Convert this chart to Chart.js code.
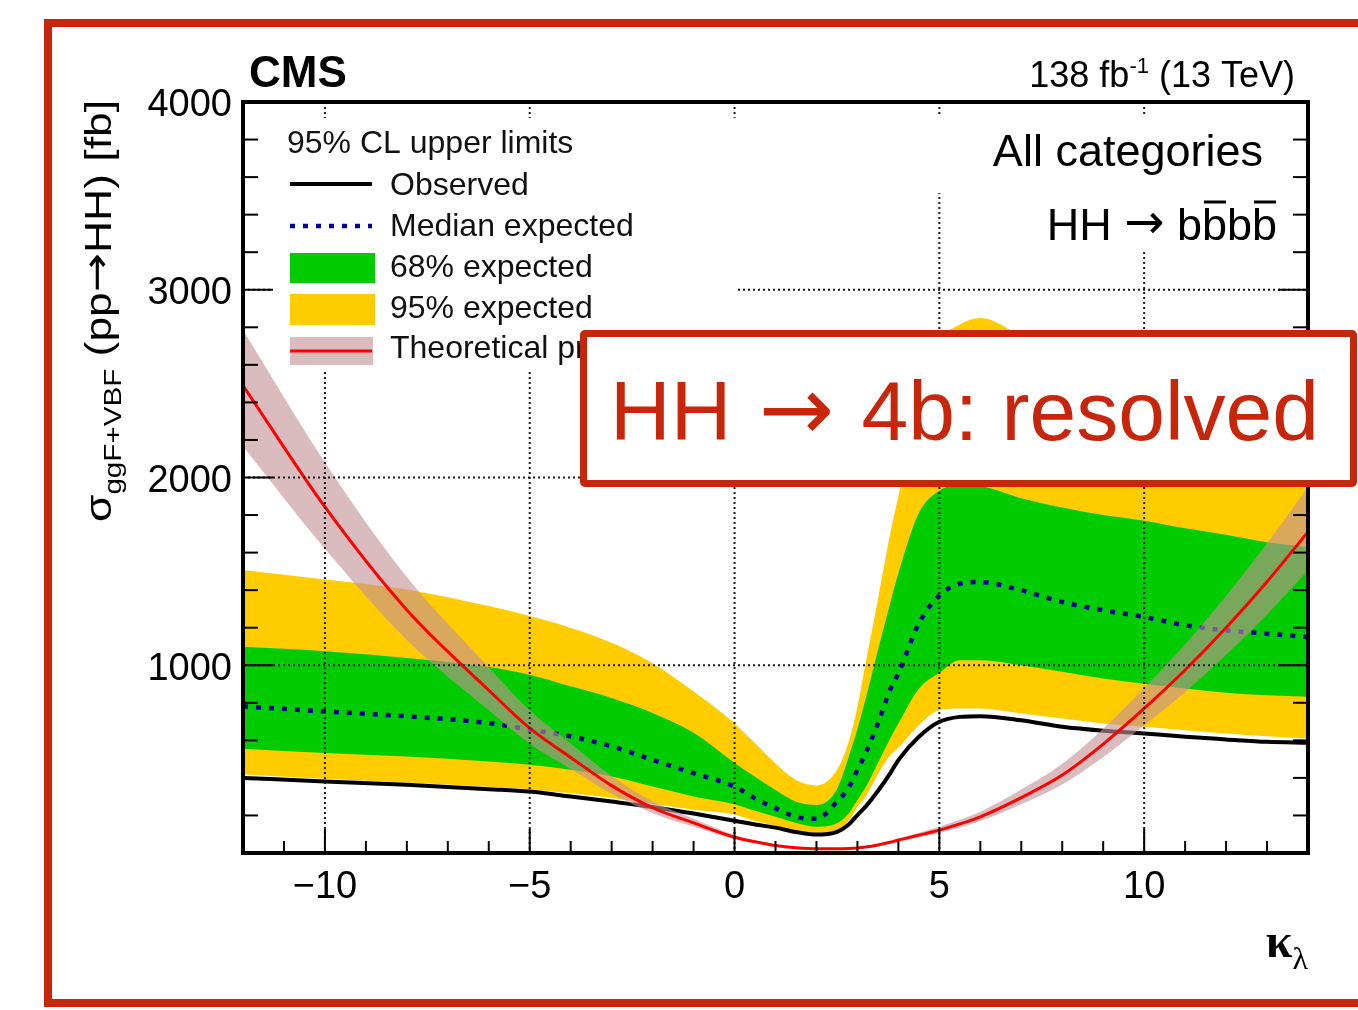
<!DOCTYPE html>
<html>
<head>
<meta charset="utf-8">
<script src="https://cdn.jsdelivr.net/npm/chart.js@4.4.1/dist/chart.umd.min.js"></script>
<style>
  html, body { margin: 0; padding: 0; background: #fff; overflow: hidden; }
  #wrap { position: relative; width: 1358px; height: 1010px; }
  canvas { position: absolute; left: 0; top: 0; }
  #frame { position: absolute; left: 44px; top: 19px; width: 1400px; height: 988px; box-sizing: border-box; border: 8px solid #c8260b; }
  #note { position: absolute; left: 580px; top: 330px; width: 777px; height: 157px; box-sizing: border-box;
          border: 7px solid #c8260b; border-radius: 5px; background: #fff; }
  #note > span { position: absolute; left: 23px; top: 32px; font: 84px/84px "Liberation Sans", Arial, sans-serif;
                 color: #c8260b; white-space: nowrap; }
  #note .ar { font-family: "DejaVu Sans", sans-serif; font-size: 90px; line-height: 0; margin: 0 4px; }
</style>
</head>
<body>
<div id="wrap">
  <canvas id="chart" width="1358" height="1010"></canvas>
  <div id="frame"></div>
  <div id="note"><span>HH <span class="ar">→</span> 4b: resolved</span></div>
</div>
<script>
const kl = [-12, -10, -8, -6, -5, -4, -3, -2, -1, 0, 0.5, 1, 1.5, 2, 2.5, 2.8, 3, 3.2, 3.5, 3.8, 4, 4.5, 5, 5.5, 6, 7, 8, 9, 10, 11, 12, 13, 14];

const observed  = [400, 381, 363, 340, 327, 301, 274, 245, 210, 172, 152, 135, 112, 98, 113, 155, 202, 247, 330, 424, 495, 619, 699, 725, 729, 707, 672, 651, 637, 619, 605, 592, 587];
const expected  = [781, 754, 728, 692, 657, 621, 568, 496, 425, 354, 291, 238, 193, 182, 273, 353, 442, 531, 690, 870, 956, 1222, 1372, 1434, 1443, 1399, 1337, 1293, 1257, 1213, 1186, 1168, 1150];
const band68Up  = [1098, 1075, 1039, 991, 950, 888, 826, 746, 640, 480, 406, 335, 273, 256, 340, 520, 660, 820, 1080, 1330, 1490, 1811, 1930, 1960, 1955, 1890, 1840, 1800, 1770, 1730, 1695, 1655, 1630];
const band68Dn  = [555, 532, 514, 488, 470, 443, 407, 354, 301, 260, 225, 193, 160, 140, 158, 215, 282, 350, 480, 610, 690, 875, 960, 1027, 1027, 1000, 965, 929, 902, 876, 853, 840, 832];
const band95Up  = [1507, 1457, 1404, 1315, 1262, 1199, 1120, 1010, 860, 690, 584, 477, 389, 360, 442, 602, 779, 1010, 1350, 1700, 1900, 2400, 2720, 2815, 2850, 2750, 2600, 2480, 2400, 2330, 2270, 2220, 2180];
const band95Dn  = [420, 395, 375, 352, 340, 318, 293, 262, 230, 205, 170, 145, 120, 105, 122, 175, 247, 300, 420, 520, 560, 680, 761, 770, 770, 743, 716, 690, 672, 654, 637, 622, 610];
const theory    = [2490, 1843, 1294, 867, 665, 509, 359, 241, 160, 84, 60, 40, 28, 22, 22, 24, 27, 32, 43, 57, 69, 95, 122, 155, 193, 295, 415, 580, 770, 975, 1200, 1445, 1710];
const theoryUp  = [2785, 2080, 1470, 990, 760, 585, 410, 275, 182, 96, 68, 46, 33, 26, 25, 27, 31, 37, 49, 65, 79, 108, 140, 177, 220, 338, 475, 662, 880, 1112, 1370, 1650, 1950];
const theoryDn  = [2165, 1620, 1135, 760, 582, 447, 315, 212, 140, 74, 53, 35, 24, 19, 19, 21, 23, 28, 38, 50, 60, 83, 107, 136, 170, 260, 365, 510, 680, 858, 1055, 1270, 1505];

const xGrid = [-10, -5, 0, 5, 10];
const yGrid = [1000, 2000, 3000];
const legendTitle = "95% CL upper limits";
const legendLabels = ["Observed", "Median expected", "68% expected", "95% expected", "Theoretical prediction"];

const SANS = '"Liberation Sans", Arial, sans-serif';
const ARROW = '"DejaVu Sans", sans-serif';
const SERIF = '"Liberation Serif", "DejaVu Serif", serif';
const YELLOW = "#ffcc00", GREEN = "#00cc00", BLUE = "#000099", THBAND = "rgba(195,145,150,0.62)";

function pts(ys) {
  return kl.map((x, i) => ({ x: x, y: ys[i] }));
}

function band(label, ys, color, order, fill) {
  return {
    label, data: pts(ys), order,
    borderWidth: 0, borderColor: "rgba(0,0,0,0)",
    backgroundColor: color, fill: fill ? "+1" : false
  };
}

const datasets = [
  { label: "Theoretical prediction", data: pts(theory), borderColor: "#ff0000", borderWidth: 3, order: 0, fill: false },
  band("theory up", theoryUp, THBAND, 1, true),
  band("theory down", theoryDn, THBAND, 2, false),
  { label: "Median expected", data: pts(expected), borderColor: BLUE, borderWidth: 4.5, borderDash: [5, 8], order: 3, fill: false },
  { label: "Observed", data: pts(observed), borderColor: "#000", borderWidth: 4, order: 4, fill: false },
  band("68% up", band68Up, GREEN, 5, true),
  band("68% down", band68Dn, GREEN, 6, false),
  band("95% up", band95Up, YELLOW, 7, true),
  band("95% down", band95Dn, YELLOW, 8, false)
];

function line(ctx, x1, y1, x2, y2) {
  ctx.beginPath();
  ctx.moveTo(x1, y1);
  ctx.lineTo(x2, y2);
  ctx.stroke();
}

// text made of pieces with their own font and vertical shift
function runsWidth(ctx, runs) {
  let w = 0;
  runs.forEach(r => { ctx.font = r.font; w += ctx.measureText(r.t).width; });
  return w;
}
function drawRuns(ctx, runs, x, y) {
  runs.forEach(r => {
    ctx.font = r.font;
    ctx.fillText(r.t, x, y + (r.dy || 0));
    x += ctx.measureText(r.t).width;
  });
}

// grid on top of the bands, ROOT style inner ticks, legend and labels
const decor = {
  id: "decor",
  afterDatasetsDraw(chart) {
    const { ctx, chartArea: a, scales } = chart;
    const x = scales.x, y = scales.y;
    ctx.save();

    ctx.strokeStyle = "#1a1a1a";
    ctx.lineWidth = 2;
    ctx.setLineDash([2, 3]);
    xGrid.forEach(v => { const px = x.getPixelForValue(v); line(ctx, px, a.top, px, a.bottom); });
    yGrid.forEach(v => { const py = y.getPixelForValue(v); line(ctx, a.left, py, a.right, py); });
    ctx.setLineDash([]);

    // white backgrounds of legend and text labels
    ctx.fillStyle = "#fff";
    ctx.fillRect(272, 118, 466, 252);
    ctx.fillRect(930, 115, 372, 78);
    ctx.fillRect(1000, 193, 302, 57);

    // ticks
    ctx.strokeStyle = "#000";
    ctx.lineWidth = 2;
    for (let v = -12; v <= 14; v++) {
      const px = x.getPixelForValue(v);
      line(ctx, px, a.bottom, px, a.bottom - (v % 5 === 0 ? 24 : 12));
    }
    for (let v = 0; v <= 4000; v += 200) {
      const py = y.getPixelForValue(v);
      const len = v % 1000 === 0 ? 30 : 15;
      line(ctx, a.left, py, a.left + len, py);
      line(ctx, a.right, py, a.right - len, py);
    }
    ctx.lineWidth = 4;
    ctx.strokeRect(a.left, a.top, a.right - a.left, a.bottom - a.top);

    // legend
    ctx.fillStyle = "#111";
    ctx.textBaseline = "alphabetic";
    ctx.textAlign = "left";
    ctx.font = "32px " + SANS;
    ctx.fillText(legendTitle, 287, 153);
    const rows = [195, 236, 277, 318, 358];
    legendLabels.forEach((t, i) => ctx.fillText(t, 390, rows[i]));

    ctx.strokeStyle = "#000";
    ctx.lineWidth = 4;
    line(ctx, 290, 184, 372, 184);
    ctx.strokeStyle = BLUE;
    ctx.lineWidth = 4.5;
    ctx.setLineDash([5, 8]);
    line(ctx, 290, 226, 372, 226);
    ctx.setLineDash([]);
    ctx.fillStyle = GREEN;
    ctx.fillRect(290, 253, 85, 30);
    ctx.fillStyle = YELLOW;
    ctx.fillRect(290, 294, 85, 31);
    ctx.fillStyle = THBAND;
    ctx.fillRect(290, 337, 83, 28);
    ctx.strokeStyle = "#ff0000";
    ctx.lineWidth = 3;
    line(ctx, 290, 351, 372, 351);

    // CMS label and luminosity
    ctx.fillStyle = "#000";
    ctx.font = "bold 44px " + SANS;
    ctx.fillText("CMS", 249, 87);

    const lumi = [
      { t: "138 fb", font: "36px " + SANS },
      { t: "-1", font: "22px " + SANS, dy: -14 },
      { t: " (13 TeV)", font: "36px " + SANS }
    ];
    drawRuns(ctx, lumi, 1295 - runsWidth(ctx, lumi), 87);

    // category labels
    ctx.font = "45px " + SANS;
    ctx.textAlign = "right";
    ctx.fillText("All categories", 1263, 166);
    ctx.textAlign = "left";
    const hh = [
      { t: "HH ", font: "45px " + SANS },
      { t: "\u2192", font: "48px " + ARROW, dy: -2 },
      { t: " b", font: "45px " + SANS },
      { t: "b", font: "45px " + SANS },
      { t: "b", font: "45px " + SANS },
      { t: "b", font: "45px " + SANS }
    ];
    drawRuns(ctx, hh, 1277 - runsWidth(ctx, hh), 240);
    ctx.font = "45px " + SANS;
    const wb = ctx.measureText("b").width;
    const bEnd = 1277;
    ctx.strokeStyle = "#000";
    ctx.lineWidth = 3;
    [bEnd - 3 * wb, bEnd - wb].forEach(bx => line(ctx, bx + 2, 202, bx + wb - 1, 202));

    // y axis title
    ctx.save();
    ctx.translate(111, 522);
    ctx.rotate(-Math.PI / 2);
    const ytitle = [
      { t: "\u03c3", font: "36px " + SANS },
      { t: "ggF+VBF", font: "24px " + SANS, dy: 10 },
      { t: " (pp", font: "36px " + SANS },
      { t: "\u2192", font: "38px " + ARROW, dy: -2 },
      { t: "HH) [fb]", font: "36px " + SANS }
    ];
    const wy = runsWidth(ctx, ytitle);
    ctx.scale(422 / wy, 1);
    drawRuns(ctx, ytitle, 0, 0);
    ctx.restore();

    // x axis title
    const xtitle = [
      { t: "\u03ba", font: "bold 48px " + SERIF },
      { t: "\u03bb", font: "32px " + SERIF, dy: 12 }
    ];
    drawRuns(ctx, xtitle, 1308 - runsWidth(ctx, xtitle), 957);

    ctx.restore();
  }
};

new Chart(document.getElementById("chart"), {
  type: "line",
  data: { datasets },
  options: {
    responsive: false,
    animation: false,
    events: [],
    layout: { padding: { top: 102, right: 50, left: 0, bottom: 0 } },
    elements: {
      point: { radius: 0 },
      line: { cubicInterpolationMode: "monotone" }
    },
    scales: {
      x: {
        type: "linear", min: -12, max: 14,
        grid: { display: false, drawTicks: false },
        border: { display: false },
        ticks: {
          stepSize: 5, includeBounds: false, padding: 12, color: "#000",
          font: { family: SANS, size: 38 },
          callback: v => (v < 0 ? "\u2212" + Math.abs(v) : String(v))
        },
        afterFit: s => { s.height = 157; }
      },
      y: {
        type: "linear", min: 0, max: 4000,
        grid: { display: false, drawTicks: false },
        border: { display: false },
        ticks: {
          stepSize: 1000, padding: 11, labelOffset: 4, color: "#000",
          font: { family: SANS, size: 38 },
          callback: v => (v === 0 ? "" : String(v))
        },
        afterFit: s => { s.width = 243; }
      }
    },
    plugins: {
      legend: { display: false },
      tooltip: { enabled: false }
    }
  },
  plugins: [decor]
});
</script>
</body>
</html>
